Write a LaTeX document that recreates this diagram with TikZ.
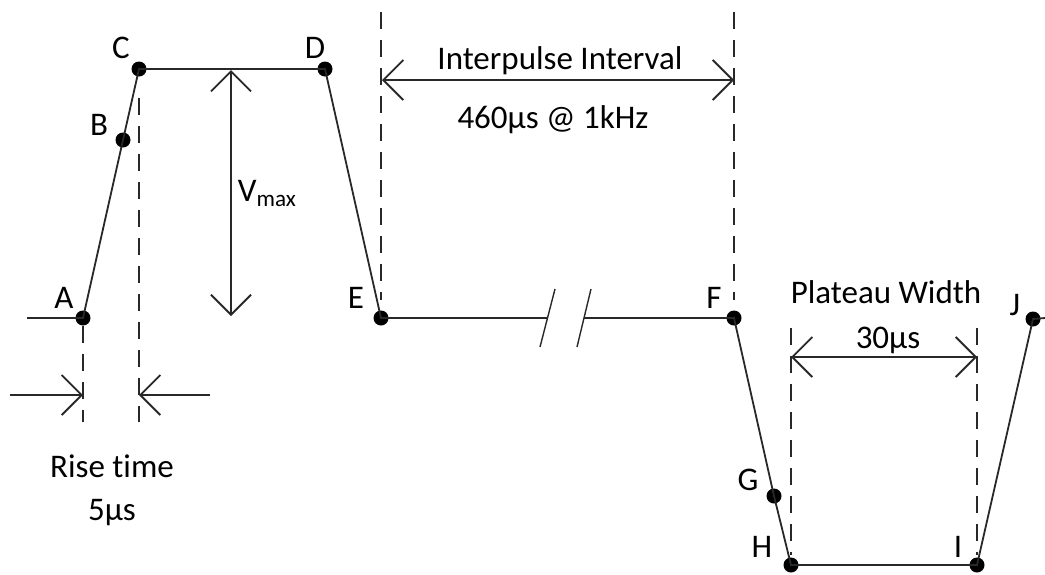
\documentclass[tikz,border=0pt]{standalone}
\usepackage{fontspec}
\setmainfont[Ligatures=NoCommon]{Carlito}
\usetikzlibrary{arrows.meta}
\definecolor{pline}{RGB}{40,40,40}
\tikzset{
  dot/.style={circle,fill=black,inner sep=0pt,minimum size=7.5pt},
  lbl/.style={inner sep=0pt,anchor=base},
  guide/.style={draw=pline,line width=0.9pt,dash pattern=on 8.5pt off 5.5pt},
  barb/.tip={Straight Barb[length=10pt,width=20pt]},
  dimline/.style={draw=pline,line width=0.9pt,barb-barb},
}
\begin{document}
\begin{tikzpicture}[x=0.5pt,y=-0.5pt,font=\fontsize{16.5}{20}\selectfont,line width=0.9pt]
  \useasboundingbox (0,0) rectangle (1045,574);
  % pulse corners
  \node[dot] (A) at (83,318) {};
  \node[dot] (B) at (123,140) {};
  \node[dot] (C) at (139,69) {};
  \node[dot] (D) at (325,69) {};
  \node[dot] (E) at (381,318) {};
  \node[dot] (F) at (734,318) {};
  \node[dot] (G) at (774,496) {};
  \node[dot] (H) at (791,565) {};
  \node[dot] (I) at (977,565) {};
  \node[dot] (J) at (1033,319) {};
  \node[lbl] (labA) at (64,308) {A};
  \node[lbl] (labB) at (99,135) {B};
  \node[lbl] (labC) at (121,58) {C};
  \node[lbl] (labD) at (315,58) {D};
  \node[lbl] (labE) at (356,308) {E};
  \node[lbl] (labF) at (714,308) {F};
  \node[lbl] (labG) at (748,490) {G};
  \node[lbl] (labH) at (762,557) {H};
  \node[lbl] (labI) at (958,557) {I};
  \node[lbl] (labJ) at (1015,315) {J};
  % waveform
  \coordinate (start) at (27,318);
  \coordinate (jend) at (1045,318);
  \coordinate (brkL) at (547,318);
  \coordinate (brkR) at (584,318);
  \draw[pline] (start) -- (A.center) -- (B.center) -- (C.center) -- (D.center) -- (E.center) -- (brkL);
  \draw[pline] (brkR) -- (F.center) -- (G.center) -- (H.center) -- (I.center) -- (J.center) -- (jend);
  \coordinate (s1a) at (540,347); \coordinate (s1b) at (555,289);
  \coordinate (s2a) at (577,347); \coordinate (s2b) at (591,289);
  \draw[pline,line width=0.7pt] (s1a) -- (s1b) (s2a) -- (s2b);
  % guides
  \coordinate (gA) at (83,422);
  \coordinate (gCt) at (139,98); \coordinate (gCb) at (139,422);
  \coordinate (gEt) at (381,12); \coordinate (gEb) at (381,300);
  \coordinate (gFt) at (734,12); \coordinate (gFb) at (734,300);
  \coordinate (gHt) at (791,328); \coordinate (gHb) at (791,555);
  \coordinate (gIt) at (977,328); \coordinate (gIb) at (977,555);
  \draw[guide] (A.south) -- (gA);
  \draw[guide] (gCt) -- (gCb);
  \draw[guide] (gEt) -- (gEb);
  \draw[guide] (gFt) -- (gFb);
  \draw[guide] (gHt) -- (gHb);
  \draw[guide] (gIt) -- (gIb);
  % dimensions
  \coordinate (vtop) at (231,70); \coordinate (vbot) at (231,316);
  \draw[dimline] (vtop) -- (vbot);
  \node[inner sep=0pt,anchor=base west] (vmax) at (237,201) {V\textsubscript{max}};
  \coordinate (ipL) at (382,80); \coordinate (ipR) at (734,80);
  \draw[dimline] (ipL) -- (ipR);
  \node[lbl] (iptxt) at (560,69) {Interpulse Interval};
  \node[lbl] (ipval) at (553,128) {460µs @ 1kHz};
  \coordinate (pwL) at (791,357); \coordinate (pwR) at (977,357);
  \draw[dimline] (pwL) -- (pwR);
  \node[lbl] (pwtxt) at (886,303) {Plateau Width};
  \node[lbl] (pwval) at (888,348) {30µs};
  \coordinate (rtL0) at (10,395); \coordinate (rtL1) at (83,395);
  \coordinate (rtR0) at (210,395); \coordinate (rtR1) at (139,395);
  \draw[pline,-barb] (rtL0) -- (rtL1);
  \draw[pline,-barb] (rtR0) -- (rtR1);
  \node[lbl] (rttxt) at (112,477) {Rise time};
  \node[lbl] (rtval) at (112,520) {5µs};
\end{tikzpicture}
\end{document}
